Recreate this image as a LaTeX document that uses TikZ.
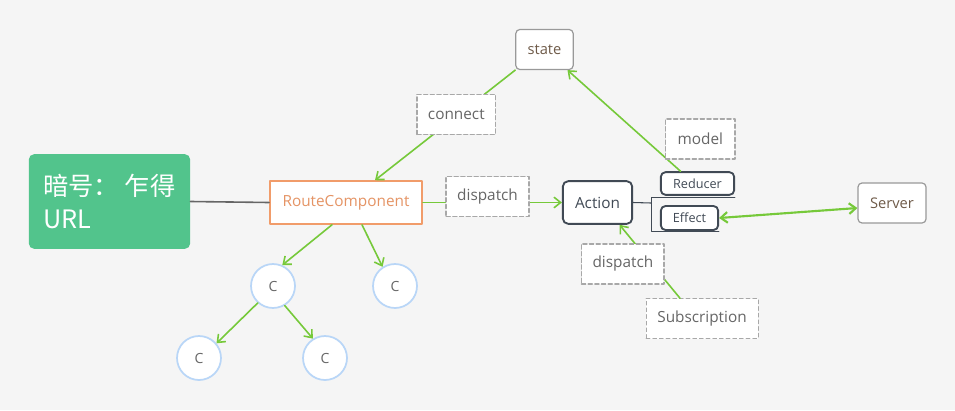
\documentclass[tikz,border=0pt]{standalone}
\usepackage{fontspec}
\setmainfont{Open Sans}
\newfontfamily\cjkfont{Noto Sans CJK SC}
\usetikzlibrary{arrows.meta}
\definecolor{bggray}{HTML}{F5F5F5}
\definecolor{titlegreen}{HTML}{52C48C}
\definecolor{flowgreen}{HTML}{76C93A}
\definecolor{routeorange}{HTML}{F19C6A}
\definecolor{tagborder}{HTML}{A8A8A8}
\definecolor{tagtext}{HTML}{666666}
\definecolor{plainborder}{HTML}{999999}
\definecolor{plaintext}{HTML}{6E5A48}
\definecolor{darkborder}{HTML}{414A55}
\definecolor{circleblue}{HTML}{B9D6F7}

\begin{document}
\begin{tikzpicture}[x=0.75pt, y=-0.75pt, line cap=round, line join=round,
    flow/.style={-{Straight Barb[length=5pt,width=8pt]}, line width=1.2pt, draw=flowgreen},
    tag/.style={draw=tagborder, dashed, dash pattern=on 3pt off 2pt, fill=white, text=tagtext,
      font=\fontsize{11.5}{13}\selectfont, inner sep=0pt, minimum height=30pt},
    plainbox/.style={draw=plainborder, line width=0.9pt, rounded corners=3pt, fill=white,
      text=plaintext, font=\fontsize{11}{13}\selectfont, inner sep=0pt, minimum height=30pt},
    darkbox/.style={draw=darkborder, line width=1.4pt, rounded corners=4pt, fill=white,
      text=darkborder, inner sep=0pt},
    comp/.style={circle, draw=circleblue, line width=1.3pt, fill=white, text=tagtext,
      font=\fontsize{10.5}{12}\selectfont, minimum size=33pt, inner sep=0pt}]

  \fill[bggray] (0,0) rectangle (955,410);
  \useasboundingbox (0,0) rectangle (955,410);

  % left part
  \node[fill=titlegreen, rounded corners=4pt, text=white, align=left, minimum width=121pt,
    minimum height=71pt, font=\cjkfont\fontsize{19}{25}\selectfont] (title) at (109.5,201.5) {暗号： 乍得\\URL};
  \node[draw=routeorange, line width=1.4pt, fill=white, text=routeorange!95!black, inner sep=0pt,
    minimum width=114pt, minimum height=32pt, font=\fontsize{11.5}{13}\selectfont] (route) at (346,202.5) {RouteComponent};
  \draw[tagtext, line width=1.2pt] (title.east) -- (route.west);

  \node[comp] (c1) at (273,286) {C};
  \node[comp] (c2) at (395,286) {C};
  \node[comp] (c3) at (199,358) {C};
  \node[comp] (c4) at (325,358) {C};
  \draw[flow] ([shift={(-14,0)}]route.south) -- (c1.66);
  \draw[flow] ([shift={(16,0)}]route.south) -- (c2.123);
  \draw[flow] (c1.228) -- (c3.40);
  \draw[flow] (c1.301) -- (c4.122);

  % top and right part
  \node[plainbox, minimum width=43pt] (state) at (544.5,49.5) {state};
  \node[darkbox, minimum width=52pt, minimum height=32pt, font=\fontsize{11.5}{13}\selectfont] (action) at (597.5,202.5) {Action};
  \node[darkbox, rounded corners=3.5pt, minimum width=55pt, minimum height=17pt, font=\fontsize{9.5}{11}\selectfont] (reducer) at (697.5,183.5) {Reducer};
  \node[darkbox, rounded corners=3.5pt, minimum width=43pt, minimum height=18pt, font=\fontsize{9.5}{11}\selectfont] (effect) at (689.5,218) {Effect};
  \node[plainbox, minimum width=51pt] (server) at (892,203) {Server};
  \node[tag, minimum width=84pt] (subs) at (702,318.5) {Subscription};

  \draw[flow] (state.south west) -- ([shift={(29,0)}]route.north)
    node[tag, pos=0.42, yshift=1.5pt, minimum width=59pt] (connect) {connect};
  \draw[flow] (route.east) -- (action.west)
    node[tag, pos=0.465, yshift=4.5pt, minimum width=62pt] (dispatchA) {dispatch};
  \draw[flow] ([shift={(-17,0)}]reducer.north) -- ([shift={(23,0)}]state.south)
    node[tag, pos=0.32, xshift=42pt, minimum width=52pt] (model) {model};
  \draw[flow] ([shift={(-22,0)}]subs.north) -- ([shift={(22,0)}]action.south)
    node[tag, pos=0.47, xshift=-21.5pt, minimum width=62pt] (dispatchB) {dispatch};
  \draw[flow, {Straight Barb[length=5pt,width=8pt]}-{Straight Barb[length=5pt,width=8pt]}, line width=1.6pt]
    (effect.east) -- ([shift={(0,5)}]server.west);

  % fork under Action
  \coordinate (fork) at (651,203);
  \draw[darkborder, line width=0.8pt] (action.east) -- (fork);
  \draw[darkborder, line width=0.6pt] (735,197) -- (651,197) -- (651,231) -- (719,231);
\end{tikzpicture}
\end{document}
